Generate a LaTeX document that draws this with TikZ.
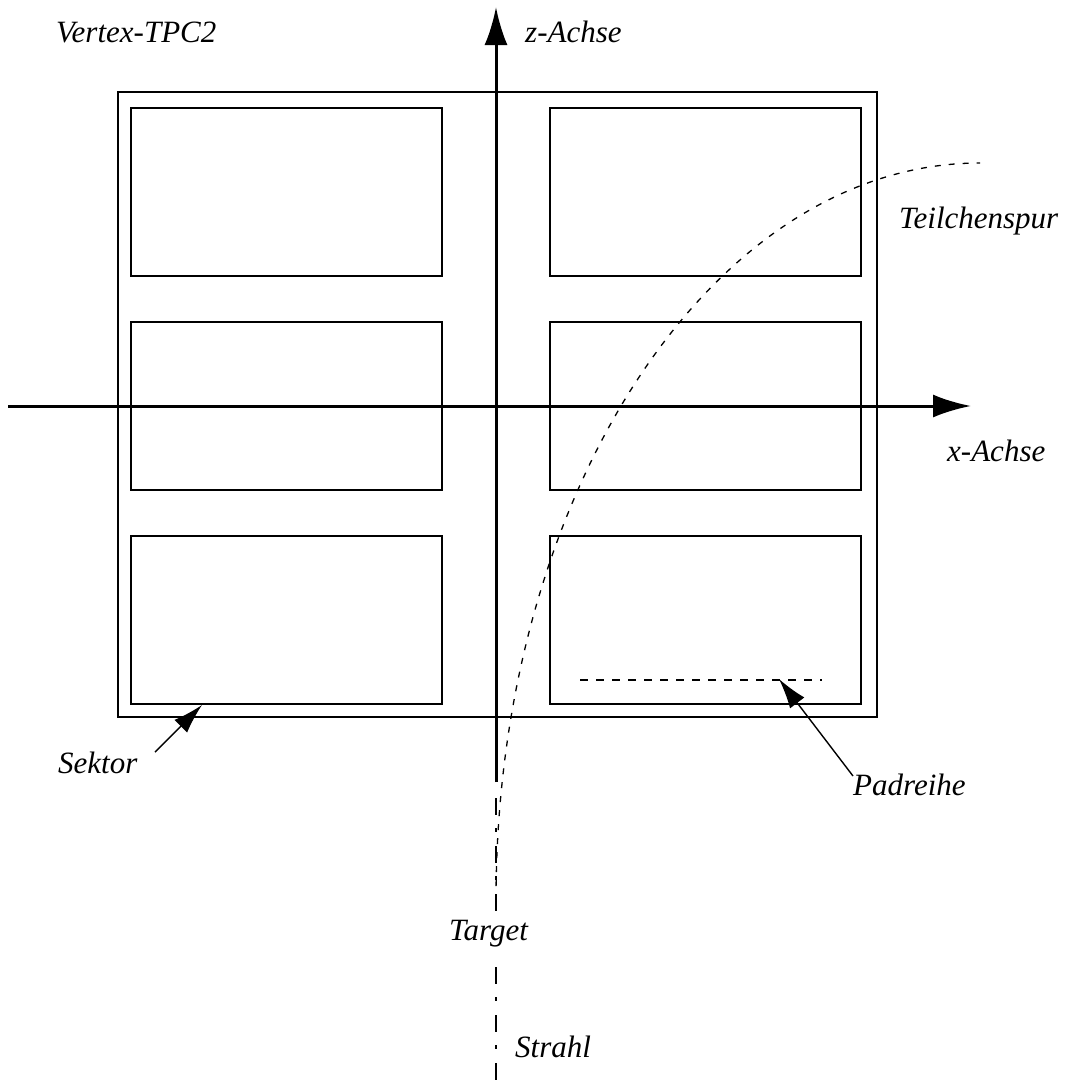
\documentclass[tikz,border=0pt]{standalone}
\usepackage{fontspec}
\setmainfont{Liberation Serif}
\usetikzlibrary{arrows.meta}
\begin{document}
\begin{tikzpicture}[x=1pt,y=-1pt,
  lbl/.style={font=\fontsize{31}{36}\selectfont\itshape, inner sep=0pt, anchor=base west},
  frame/.style={line width=1.4pt},
  axis/.style={line width=3pt, -{Latex[length=38pt,width=23pt]}},
  pointer/.style={line width=1.4pt, -{Latex[length=30pt,width=18pt]}},
  track/.style={line width=1.3pt, dash pattern=on 6pt off 8pt},
  beam/.style={line width=1.4pt, dash pattern=on 17pt off 13pt on 4pt off 14pt},
  padrow/.style={line width=1.2pt, dash pattern=on 8pt off 8pt}]
\useasboundingbox (0,0) rectangle (1069,1085);
% outer frame
\draw[frame] (118,92) rectangle (877,717);
% sectors
\foreach \y/\h in {108/276, 322/490, 536/704}{
  \draw[frame] (131,\y) rectangle (442,\h);
  \draw[frame] (550,\y) rectangle (861,\h);
}
% coordinates
\coordinate (xs) at (8,406);
\coordinate (xe) at (971,406);
\coordinate (zs) at (496,782);
\coordinate (ze) at (496,7);
\coordinate (b1s) at (496,798);
\coordinate (b1e) at (496,915);
\coordinate (b2s) at (496,967);
\coordinate (b2e) at (496,1085);
\coordinate (ts) at (496,900);
\coordinate (te) at (980,163);
\coordinate (ps) at (580,680);
\coordinate (pe) at (822,680);
% axes
\draw[axis] (xs) -- (xe);
\draw[axis] (zs) -- (ze);
% beam
\draw[beam] (b1s) -- (b1e);
\draw[beam] (b2s) -- (b2e);
% track
\draw[track] (ts) .. controls (496,493) and (713,163) .. (te);
% pad row
\draw[padrow] (ps) -- (pe);
% labels
\node[lbl] (vtpc) at (56,42) {Vertex-TPC2};
\node[lbl] (zlab) at (525,42) {z-Achse};
\node[lbl] (tlab) at (899,228) {Teilchenspur};
\node[lbl] (xlab) at (947,461) {x-Achse};
\node[lbl] (slab) at (58,773) {Sektor};
\node[lbl] (plab) at (853,795) {Padreihe};
\node[lbl] (tglab) at (449,940) {Target};
\node[lbl] (stlab) at (515,1057) {Strahl};
% pointers
\coordinate (sa) at (155,752);
\coordinate (sb) at (202,705);
\coordinate (pa) at (853,776);
\coordinate (pb) at (779,679);
\draw[pointer] (sa) -- (sb);
\draw[pointer] (pa) -- (pb);
\end{tikzpicture}
\end{document}
